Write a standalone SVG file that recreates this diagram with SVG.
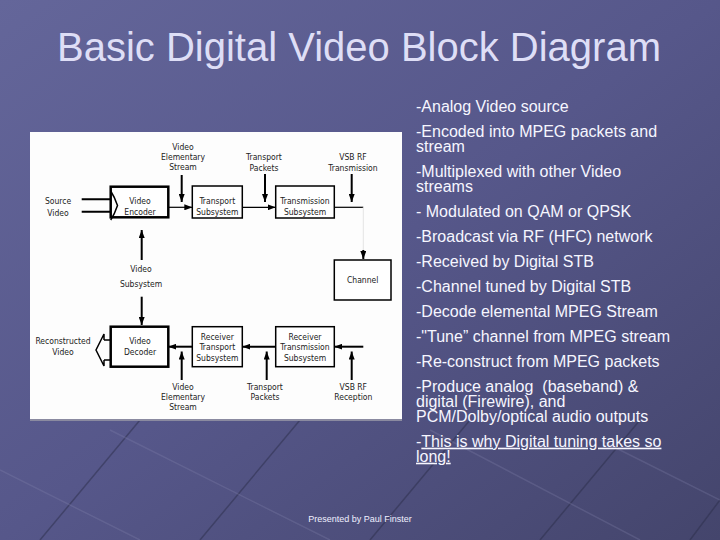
<svg xmlns="http://www.w3.org/2000/svg" width="720" height="540" viewBox="0 0 720 540">
<defs>
<linearGradient id="bg" x1="0" y1="0" x2="1" y2="1">
<stop offset="0" stop-color="#64669a"/>
<stop offset="0.5" stop-color="#56578a"/>
<stop offset="1" stop-color="#44456c"/>
</linearGradient>
<marker id="ah" viewBox="0 0 8 6" refX="8" refY="3" markerWidth="8" markerHeight="6" markerUnits="userSpaceOnUse" orient="auto">
<path d="M0,0 L8,3 L0,6 z" fill="#000"/>
</marker>
<style>
.t{font-family:"DejaVu Sans Condensed","Liberation Sans Narrow","Liberation Sans",Arial,sans-serif;font-stretch:condensed;font-size:8.5px;fill:#222;text-anchor:middle}
.b{font-family:"Liberation Sans",Arial,sans-serif;font-size:16px;fill:#f6f6ff}
.box{fill:#fff;stroke:#000;stroke-width:1.5}
.thick{stroke-width:2.5}
.c{stroke:#000;stroke-width:2;fill:none}
.thin{stroke-width:1.2}
</style>
</defs>
<rect width="720" height="540" fill="url(#bg)"/>
<g id="decor" stroke-width="1.5" fill="none">
<path d="M40 540 L140 420 M200 540 L300 420 M370 540 L470 420 M540 540 L640 420 M690 540 L720 500" stroke="#2c2d4a" opacity="0.5"/>
<path d="M0 470 L140 540 M110 430 L330 540 M430 430 L640 540 M600 440 L720 500" stroke="#8a8bb5" opacity="0.25"/>
</g>
<text x="359" y="61" font-family="Liberation Sans, Arial, sans-serif" font-size="40" fill="#dedef6" text-anchor="middle">Basic Digital Video Block Diagram</text>
<rect id="panel" x="30" y="132" width="372" height="287" fill="#fdfdfd"/>
<rect x="30" y="419" width="372" height="2" fill="#8a8aa0"/>

<g id="connectors">
<path class="c" d="M181.7,175 V202" marker-end="url(#ah)"/>
<path class="c thin" d="M168.3,207.3 H192.3" marker-end="url(#ah)"/>
<path class="c" d="M265,174 V202" marker-end="url(#ah)"/>
<path class="c thin" d="M242.3,207.3 H275.7" marker-end="url(#ah)"/>
<path class="c" d="M351.7,174 V202" marker-end="url(#ah)"/>
<path class="c thin" d="M334.3,207.3 H363.3"/>
<path d="M363.3,207.3 V250" stroke="#e4e4e4" stroke-width="1" fill="none"/>
<path class="c" d="M363.3,250 V259" marker-end="url(#ah)"/>
<path class="c" d="M141.7,260 V230" marker-end="url(#ah)"/>
<path class="c" d="M141.7,296.7 V325" marker-end="url(#ah)"/>
<path class="c" d="M192.3,346.7 H168.3" marker-end="url(#ah)"/>
<path class="c" d="M181.7,380 V351.5" marker-end="url(#ah)"/>
<path class="c" d="M275.7,346.7 H242.3" marker-end="url(#ah)"/>
<path class="c" d="M266.7,380 V351.5" marker-end="url(#ah)"/>
<path class="c" d="M363.3,346.7 H334.3" marker-end="url(#ah)"/>
<path class="c" d="M351.7,380 V351.5" marker-end="url(#ah)"/>
<path class="c" d="M81.7,199.3 H111 M81.7,211.7 H111"/>
<path d="M104,340 H110.7 M104,360 H110.7 M104,340 V334 L96,350 L104,366 V360" stroke="#000" stroke-width="1.5" fill="none"/>
</g>

<g id="source-video"><text class="t" x="58" y="204">Source</text><text class="t" x="58" y="215.7">Video</text></g>
<g id="ves-top"><text class="t" x="183" y="149.7">Video</text><text class="t" x="183" y="159.7">Elementary</text><text class="t" x="183" y="170.3">Stream</text></g>
<g id="video-encoder"><rect class="box thick" x="110.7" y="186.7" width="57.6" height="30.6"/><path d="M110.7,191 C114,196 116,201 117.5,205.5 C116,210 114,215 110.7,220" stroke="#000" stroke-width="1.5" fill="none"/><text class="t" x="140" y="204">Video</text><text class="t" x="140" y="215.2">Encoder</text></g>
<g id="tp-top"><text class="t" x="264" y="159.7">Transport</text><text class="t" x="264" y="170.7">Packets</text></g>
<g id="transport-subsystem"><rect class="box" x="192.3" y="186" width="50" height="32"/><text class="t" x="217.3" y="204">Transport</text><text class="t" x="217.3" y="215.2">Subsystem</text></g>
<g id="vsb-tx"><text class="t" x="353" y="159.7">VSB RF</text><text class="t" x="353" y="170.7">Transmission</text></g>
<g id="transmission-subsystem"><rect class="box" x="275.7" y="186" width="58.6" height="32"/><text class="t" x="305" y="204">Transmission</text><text class="t" x="305" y="215.2">Subsystem</text></g>
<g id="channel"><rect class="box" x="334.3" y="260" width="56.7" height="40"/><text class="t" x="362.7" y="283">Channel</text></g>
<g id="video-subsystem"><text class="t" x="141" y="272">Video</text><text class="t" x="141" y="287.3">Subsystem</text></g>
<g id="reconstructed-video"><text class="t" x="63" y="344">Reconstructed</text><text class="t" x="63" y="354.7">Video</text></g>
<g id="video-decoder"><rect class="box thick" x="110.7" y="326.7" width="57.6" height="40"/><text class="t" x="140" y="344">Video</text><text class="t" x="140" y="354.7">Decoder</text></g>
<g id="receiver-transport"><rect class="box" x="192.3" y="326.7" width="50" height="40"/><text class="t" x="217.3" y="339.7">Receiver</text><text class="t" x="217.3" y="349.7">Transport</text><text class="t" x="217.3" y="360.7">Subsystem</text></g>
<g id="receiver-transmission"><rect class="box" x="275.7" y="326.7" width="58.6" height="40"/><text class="t" x="305" y="339.7">Receiver</text><text class="t" x="305" y="349.7">Transmission</text><text class="t" x="305" y="360.7">Subsystem</text></g>
<g id="ves-bottom"><text class="t" x="183" y="389.7">Video</text><text class="t" x="183" y="399.7">Elementary</text><text class="t" x="183" y="410.3">Stream</text></g>
<g id="tp-bottom"><text class="t" x="265" y="389.7">Transport</text><text class="t" x="265" y="399.7">Packets</text></g>
<g id="vsb-rx"><text class="t" x="353.3" y="389.7">VSB RF</text><text class="t" x="353.3" y="399.7">Reception</text></g>

<g id="bullets">
<text class="b" x="416" y="111.7">-Analog Video source</text>
<text class="b" x="416" y="136.7">-Encoded into MPEG packets and</text>
<text class="b" x="416" y="151.7">stream</text>
<text class="b" x="416" y="176.5">-Multiplexed with other Video</text>
<text class="b" x="416" y="191.7">streams</text>
<text class="b" x="416" y="217">- Modulated on QAM or QPSK</text>
<text class="b" x="416" y="241.7">-Broadcast via RF (HFC) network</text>
<text class="b" x="416" y="267">-Received by Digital STB</text>
<text class="b" x="416" y="292.3">-Channel tuned by Digital STB</text>
<text class="b" x="416" y="316.7">-Decode elemental MPEG Stream</text>
<text class="b" x="416" y="341.7">-"Tune” channel from MPEG stream</text>
<text class="b" x="416" y="366.7">-Re-construct from MPEG packets</text>
<text class="b" x="416" y="391.7" xml:space="preserve">-Produce analog  (baseband) &amp;</text>
<text class="b" x="416" y="406.7">digital (Firewire), and</text>
<text class="b" x="416" y="421.7">PCM/Dolby/optical audio outputs</text>
<text class="b" x="416" y="446.7">-<tspan text-decoration="underline">This is why Digital tuning takes so</tspan></text>
<text class="b" x="416" y="461.7" text-decoration="underline">long!</text>
</g>
<text x="360" y="521.7" font-family="Liberation Sans, Arial, sans-serif" font-size="9" fill="#f0f0ff" text-anchor="middle">Presented by Paul Finster</text>
</svg>
